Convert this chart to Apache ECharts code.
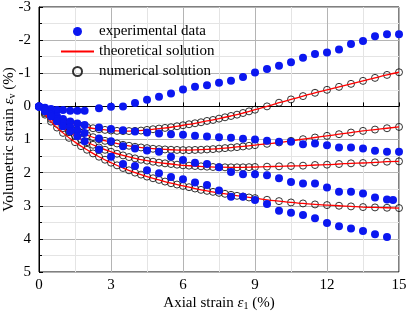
<!DOCTYPE html>
<html>
<head>
<meta charset="utf-8">
<script src="https://cdn.jsdelivr.net/npm/echarts@6/dist/echarts.min.js"></script>
<style>
  html, body { margin: 0; padding: 0; background: #fff; }
  #chart { width: 408px; height: 313px; }
</style>
</head>
<body>
<div id="chart"></div>
<script>
// experimental data (axial strain, volumetric strain)
const expX = [0, 0.25, 0.5, 0.75, 1, 1.3, 1.6, 1.9, 2.5, 3, 3.5, 4, 4.5, 5, 5.5, 6, 6.5, 7, 7.5, 8, 8.5, 9, 9.5, 10, 10.5, 11, 11.5, 12, 12.5, 13, 13.5, 14, 14.5, 15]
const expX3 = [0, 0.25, 0.5, 0.75, 1, 1.3, 1.6, 1.9, 2.5, 3, 3.5, 4, 4.5, 5, 5.5, 6, 6.5, 7, 7.5, 8, 8.5, 9, 9.5, 10, 10.5, 11, 11.5, 12, 12.5, 13, 13.5, 14, 14.5, 14.75]
const exp1 = [0.01, 0.04, 0.08, 0.11, 0.11, 0.13, 0.13, 0.13, 0.06, 0.01, 0, -0.1, -0.2, -0.29, -0.39, -0.51, -0.59, -0.64, -0.71, -0.77, -0.89, -1.02, -1.13, -1.23, -1.33, -1.47, -1.58, -1.63, -1.72, -1.88, -1.97, -2.12, -2.18, -2.18]
const exp2 = [0, 0.1, 0.2, 0.3, 0.38, 0.46, 0.52, 0.56, 0.64, 0.68, 0.72, 0.76, 0.79, 0.82, 0.84, 0.86, 0.89, 0.91, 0.93, 0.95, 0.98, 1.0, 1.04, 1.07, 1.07, 1.14, 1.12, 1.17, 1.24, 1.24, 1.27, 1.34, 1.37, 1.37]
const exp3 = [0, 0.12, 0.25, 0.38, 0.5, 0.62, 0.72, 0.8, 0.97, 1.05, 1.2, 1.27, 1.33, 1.37, 1.52, 1.62, 1.7, 1.74, 1.84, 1.98, 2.05, 2.05, 2.08, 2.17, 2.28, 2.33, 2.33, 2.45, 2.58, 2.58, 2.63, 2.75, 2.81, 2.83]
const exp4 = [0, 0.15, 0.3, 0.45, 0.6, 0.75, 0.9, 1.05, 1.3, 1.52, 1.74, 1.8, 1.93, 2.02, 2.13, 2.2, 2.3, 2.37, 2.54, 2.73, 2.73, 2.83, 2.95, 3.15, 3.21, 3.28, 3.38, 3.52, 3.62, 3.69, 3.76, 3.86, 3.94]

// theoretical solution
const theoX = [0, 0.5, 1, 1.5, 2, 2.5, 3, 3.5, 4, 4.5, 5, 5.5, 6, 6.5, 7, 7.5, 8, 8.5, 9, 9.5, 10, 10.5, 11, 11.5, 12, 12.5, 13, 13.5, 14, 14.5, 15]
const theo1 = [0, 0.25, 0.42, 0.54, 0.63, 0.69, 0.73, 0.745, 0.74, 0.71, 0.67, 0.63, 0.57, 0.51, 0.44, 0.37, 0.29, 0.2, 0.1, 0, -0.11, -0.21, -0.31, -0.41, -0.5, -0.59, -0.68, -0.77, -0.86, -0.95, -1.03]
const theo2 = [0, 0.3, 0.53, 0.72, 0.87, 0.99, 1.08, 1.16, 1.22, 1.26, 1.29, 1.31, 1.32, 1.315, 1.3, 1.275, 1.245, 1.21, 1.17, 1.13, 1.09, 1.04, 0.99, 0.94, 0.89, 0.84, 0.79, 0.74, 0.7, 0.66, 0.62]
const theo3 = [0, 0.38, 0.66, 0.89, 1.08, 1.24, 1.37, 1.48, 1.57, 1.64, 1.7, 1.74, 1.78, 1.8, 1.82, 1.835, 1.84, 1.84, 1.83, 1.82, 1.81, 1.8, 1.79, 1.77, 1.76, 1.74, 1.72, 1.71, 1.69, 1.67, 1.66]
const theo4 = [0, 0.46, 0.8, 1.08, 1.31, 1.52, 1.7, 1.86, 2.0, 2.12, 2.22, 2.32, 2.4, 2.48, 2.55, 2.61, 2.67, 2.72, 2.77, 2.82, 2.86, 2.9, 2.93, 2.96, 2.98, 3.0, 3.02, 3.04, 3.05, 3.06, 3.07]

// numerical solution
const numX = [0, 0.25, 0.5, 0.75, 1, 1.25, 1.5, 1.75, 2, 2.25, 2.5, 2.75, 3, 3.25, 3.5, 3.75, 4, 4.25, 4.5, 4.75, 5, 5.25, 5.5, 5.75, 6, 6.25, 6.5, 6.75, 7, 7.25, 7.5, 7.75, 8, 8.25, 8.5, 8.75, 9, 9.5, 10, 10.5, 11, 11.5, 12, 12.5, 13, 13.5, 14, 14.5, 15]
const num1 = [0, 0.14, 0.25, 0.34, 0.42, 0.48, 0.54, 0.59, 0.63, 0.66, 0.69, 0.71, 0.73, 0.74, 0.745, 0.745, 0.74, 0.73, 0.71, 0.69, 0.67, 0.65, 0.63, 0.6, 0.57, 0.54, 0.51, 0.48, 0.44, 0.41, 0.37, 0.33, 0.29, 0.25, 0.2, 0.15, 0.1, 0, -0.11, -0.21, -0.31, -0.41, -0.5, -0.59, -0.68, -0.77, -0.86, -0.95, -1.03]
const num2 = [0, 0.17, 0.3, 0.42, 0.53, 0.63, 0.72, 0.8, 0.87, 0.93, 0.99, 1.04, 1.08, 1.12, 1.16, 1.19, 1.22, 1.24, 1.26, 1.28, 1.29, 1.3, 1.31, 1.315, 1.32, 1.32, 1.315, 1.31, 1.3, 1.29, 1.275, 1.26, 1.245, 1.23, 1.21, 1.19, 1.17, 1.13, 1.09, 1.04, 0.99, 0.94, 0.89, 0.84, 0.79, 0.74, 0.7, 0.66, 0.62]
const num3 = [0, 0.21, 0.38, 0.53, 0.66, 0.78, 0.89, 0.99, 1.08, 1.16, 1.24, 1.31, 1.37, 1.43, 1.48, 1.53, 1.57, 1.61, 1.64, 1.67, 1.7, 1.72, 1.74, 1.76, 1.78, 1.79, 1.8, 1.81, 1.82, 1.83, 1.835, 1.84, 1.84, 1.84, 1.84, 1.835, 1.83, 1.82, 1.81, 1.8, 1.79, 1.77, 1.76, 1.74, 1.72, 1.71, 1.69, 1.67, 1.66]
const num4 = [0, 0.25, 0.46, 0.64, 0.8, 0.95, 1.08, 1.2, 1.31, 1.42, 1.52, 1.61, 1.7, 1.78, 1.86, 1.93, 2.0, 2.06, 2.12, 2.17, 2.22, 2.27, 2.32, 2.36, 2.4, 2.44, 2.48, 2.52, 2.55, 2.58, 2.61, 2.64, 2.67, 2.7, 2.72, 2.75, 2.77, 2.82, 2.86, 2.9, 2.93, 2.96, 2.98, 3.0, 3.02, 3.04, 3.05, 3.06, 3.07]

const pair = (xs, ys) => ys.map((y, i) => [xs[i], y])

const font = 'Liberation Serif'
const expName = 'experimental data'
const theoName = 'theoretical solution'
const numName = 'numerical solution'

const expSeries = [[expX, exp1], [expX, exp2], [expX3, exp3], [expX, exp4]].map(([xs, ys]) => ({
    name: expName,
    type: 'scatter',
    symbol: 'circle',
    symbolSize: 8,
    z: 5,
    itemStyle: { color: '#0b17f0', opacity: 1 },
    data: pair(xs, ys)
}))

const theoSeries = [theo1, theo2, theo3, theo4].map(ys => ({
    name: theoName,
    type: 'line',
    smooth: true,
    symbol: 'none',
    z: 4,
    lineStyle: { color: '#ff0000', width: 1.3 },
    itemStyle: { color: '#ff0000' },
    data: pair(theoX, ys)
}))

const numSeries = [num1, num2, num3, num4].map(ys => ({
    name: numName,
    type: 'scatter',
    symbol: 'circle',
    symbolSize: 7,
    z: 3,
    itemStyle: { color: 'rgba(0,0,0,0)', borderColor: '#000', borderWidth: 1 },
    data: pair(numX, ys)
}))

const axisName = {
    fontFamily: font,
    fontSize: 15,
    color: '#000',
    rich: {
        i: { fontFamily: font, fontSize: 15, fontStyle: 'italic' },
        s: { fontFamily: font, fontSize: 10, padding: [6, 0, 0, 0] }
    }
}

const myChart = echarts.init(document.getElementById('chart'))
myChart.setOption({
    animation: false,
    textStyle: { fontFamily: font },
    grid: {
        show: true,
        borderColor: '#000',
        borderWidth: 1,
        left: 39,
        right: 9,
        top: 7,
        bottom: 41,
        containLabel: false,
        outerBoundsMode: 'none'
    },
    legend: {
        data: [
            expName,
            { name: theoName, itemStyle: { opacity: 0 } },
            numName
        ],
        orient: 'vertical',
        left: 55,
        top: 19,
        itemWidth: 33,
        itemHeight: 9,
        itemGap: 5,
        textStyle: { fontFamily: font, fontSize: 15, color: '#000' }
    },
    xAxis: {
        type: 'value',
        min: 0,
        max: 15,
        interval: 3,
        name: 'Axial strain {i|ε}{s|1} (%)',
        nameLocation: 'middle',
        nameGap: 23,
        nameMoveOverlap: false,
        nameTextStyle: axisName,
        axisLine: { lineStyle: { color: '#000' } },
        axisTick: { inside: true, length: 4, lineStyle: { color: '#000' } },
        minorTick: { show: true, splitNumber: 2, length: 4, lineStyle: { color: '#000' } },
        axisLabel: { fontFamily: font, fontSize: 15, color: '#000', margin: 6 },
        splitLine: { show: true, lineStyle: { color: '#b4b4b4', width: 1 } },
        minorSplitLine: { show: true, lineStyle: { color: '#e4e4e4', width: 1 } }
    },
    yAxis: {
        type: 'value',
        inverse: true,
        min: -3,
        max: 5,
        interval: 1,
        name: 'Volumetric strain {i|ε}{s|v} (%)',
        nameLocation: 'middle',
        nameGap: 22,
        nameMoveOverlap: false,
        nameTextStyle: axisName,
        axisLine: { lineStyle: { color: '#000' } },
        axisTick: { inside: true, length: 4, lineStyle: { color: '#000' } },
        minorTick: { show: true, splitNumber: 2, length: 3, lineStyle: { color: '#000' } },
        axisLabel: { fontFamily: font, fontSize: 15, color: '#000', margin: 8 },
        splitLine: { show: true, lineStyle: { color: '#b4b4b4', width: 1 } },
        minorSplitLine: { show: true, lineStyle: { color: '#e4e4e4', width: 1 } }
    },
    series: [...expSeries, ...theoSeries, ...numSeries]
})
</script>
</body>
</html>
